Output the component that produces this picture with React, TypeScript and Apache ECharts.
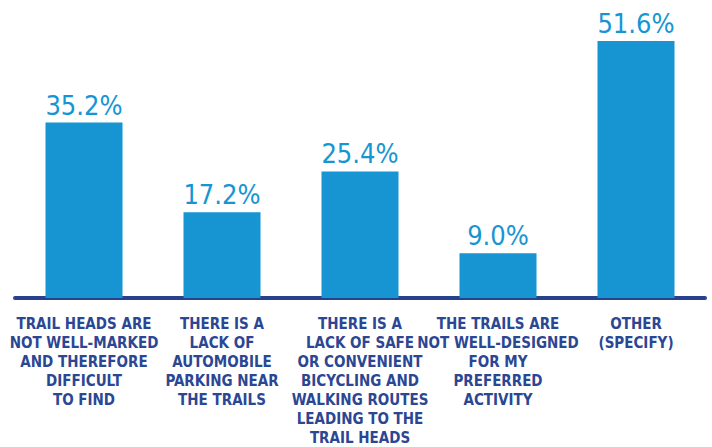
import React, { useEffect, useRef } from "react";
import * as echarts from "echarts";

const categories = [
  "TRAIL HEADS ARE\nNOT WELL-MARKED\nAND THEREFORE\nDIFFICULT\nTO FIND",
  "THERE IS A\nLACK OF\nAUTOMOBILE\nPARKING NEAR\nTHE TRAILS",
  "THERE IS A\nLACK OF SAFE\nOR CONVENIENT\nBICYCLING AND\nWALKING ROUTES\nLEADING TO THE\nTRAIL HEADS",
  "THE TRAILS ARE\nNOT WELL-DESIGNED\nFOR MY\nPREFERRED\nACTIVITY",
  "OTHER\n(SPECIFY)",
];
const values = [35.2, 17.2, 25.4, 9.0, 51.6];

const FONT = "'Liberation Sans Narrow', 'DejaVu Sans Condensed', 'Noto Sans', sans-serif";

export default function App() {
  const ref = useRef<HTMLDivElement>(null);
  useEffect(() => {
    if (!ref.current) return;
    const chart = echarts.init(ref.current, undefined, { renderer: "svg" });
    chart.setOption({
      animation: false,
      grid: { left: 15, right: 7, top: 9, bottom: 148, containLabel: false },
      xAxis: {
        type: "category",
        data: categories,
        offset: 2,
        axisLine: { show: true, lineStyle: { color: "#27418c", width: 4 } },
        axisTick: { show: false },
        axisLabel: {
          interval: 0,
          margin: 14,
          color: "#2b4793",
          fontFamily: FONT,
          fontWeight: "bold",
          fontSize: 15,
          lineHeight: 19,
          align: "center",
        },
      },
      yAxis: {
        type: "value",
        min: 0,
        max: 58,
        show: false,
        splitLine: { show: false },
      },
      series: [
        {
          type: "bar",
          data: values,
          barWidth: 77,
          itemStyle: { color: "#1795d3" },
          label: {
            show: true,
            position: "top",
            distance: 4,
            formatter: (p: any) => p.value.toFixed(1) + "%",
            color: "#1795d3",
            fontFamily: FONT,
            fontSize: 27,
            fontWeight: "normal",
          },
        },
      ],
    });
    return () => chart.dispose();
  }, []);
  return <div ref={ref} style={{ width: 712, height: 447, position: "absolute", left: 0, top: 0 }} />;
}
